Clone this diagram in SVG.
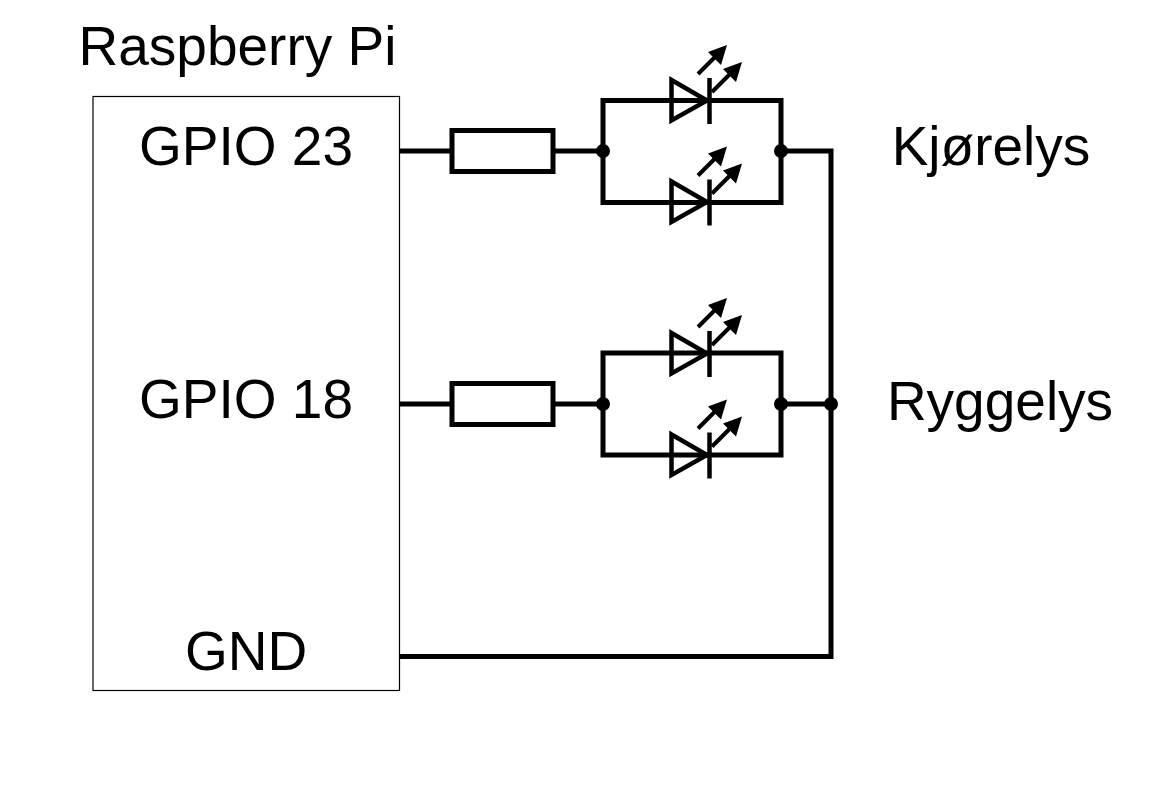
<svg xmlns="http://www.w3.org/2000/svg" width="1174" height="795" viewBox="0 0 1174 795">
<style>
text{font-family:"Liberation Sans",Arial,sans-serif;font-size:55px;fill:#000}
.m{text-anchor:middle}
.w{fill:none;stroke:#000;stroke-width:5}
.t{fill:none;stroke:#000;stroke-width:4.5}
.d{fill:#000;stroke:none}
</style>
<defs>
<g id="led">
<path class="t" d="M671.500 80L707 100.500L671.500 120.500Z"/>
<path class="t" d="M709.500 78V124"/>
<path class="w" style="stroke-width:4" d="M698 74L717 55M712 92L731 73"/>
<path class="d" d="M727 45L721 65L708 52ZM742 62L736 82L723 69Z"/>
</g>
</defs>
<rect width="1174" height="795" fill="#fff"/>
<g id="connectors">
<path class="w" d="M400 151H452M553 151H603M603 151V100.500H781V151M603 151V202.500H781V151M781 151H831V656.500H400"/>
<path class="w" d="M400 404H452M553 404H603M603 404V353H781V404M603 404V455H781V404M781 404H831"/>
<circle class="d" cx="603" cy="151" r="7"/><circle class="d" cx="781" cy="151" r="7"/>
<circle class="d" cx="603" cy="404" r="7"/><circle class="d" cx="781" cy="404" r="7"/><circle class="d" cx="831" cy="404" r="7"/>
</g>
<g id="raspberry-pi">
<rect x="93" y="96.500" width="306.500" height="594" fill="#fff" stroke="#000" stroke-width="1.200"/>
<text x="237.500" y="65" class="m">Raspberry Pi</text>
<text x="246" y="165" class="m">GPIO 23</text>
<text x="246" y="418" class="m">GPIO 18</text>
<text x="246" y="670" class="m">GND</text>
</g>
<g id="resistor-1"><rect class="w" x="452" y="130.500" width="101" height="41" fill="#fff"/></g>
<g id="resistor-2"><rect class="w" x="452" y="383.500" width="101" height="41" fill="#fff"/></g>
<g id="led-1"><use href="#led"/></g>
<g id="led-2"><use href="#led" y="101.500"/></g>
<g id="led-3"><use href="#led" y="253"/></g>
<g id="led-4"><use href="#led" y="354.500"/></g>
<g id="label-kjorelys"><text x="991" y="165" class="m">Kjørelys</text></g>
<g id="label-ryggelys"><text x="1000" y="420" class="m">Ryggelys</text></g>
</svg>
